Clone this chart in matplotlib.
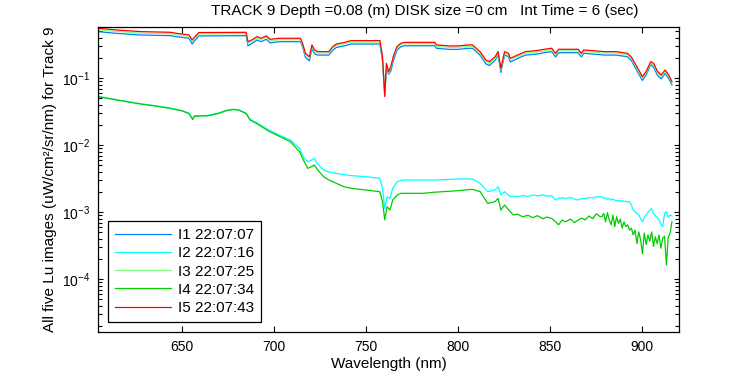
import matplotlib
matplotlib.use('Agg')
import matplotlib.pyplot as plt
from matplotlib.ticker import LogLocator, NullFormatter
import numpy as np

plt.rcParams['font.family'] = ['Liberation Sans', 'DejaVu Sans']
plt.rcParams['mathtext.fontset'] = 'custom'
plt.rcParams['mathtext.rm'] = 'Liberation Sans'
plt.rcParams['mathtext.it'] = 'Liberation Sans'
plt.rcParams['mathtext.default'] = 'regular'

# upper group (I1, I3, I5)
wl_top = [605, 615, 627.5, 644, 647, 650, 654, 655.7, 659.2, 685, 686, 688, 691, 693, 696, 698, 701,
          703.3, 714.5, 715.6, 717.2, 719.3, 720.7, 722.1, 723.8, 729.9, 732, 734, 738, 742, 757.6,
          759, 760.2, 761.1, 762.3, 763.5, 764.8, 766.8, 768.9, 770.9, 787.3, 788.3, 795.5, 799.6,
          805.7, 807.8, 811.9, 815, 817, 820.1, 821.7, 823.2, 825.2, 827.3, 828.3, 832.4, 836.5,
          842.6, 846.7, 850.8, 852.9, 854.5, 865.2, 866.8, 868.2, 879.5, 885.7, 891.8, 893.9, 898,
          900, 902, 904.5, 906.1, 908.2, 910.2, 912.3, 914.3, 916]
lu_i5 = [0.557, 0.526, 0.498, 0.486, 0.470, 0.459, 0.444, 0.373, 0.481, 0.486, 0.352, 0.373, 0.419,
         0.396, 0.429, 0.382, 0.390, 0.396, 0.396, 0.333, 0.236, 0.210, 0.315, 0.265, 0.250, 0.250,
         0.297, 0.325, 0.341, 0.365, 0.365, 0.210, 0.0532, 0.167, 0.126, 0.149, 0.210, 0.297, 0.333,
         0.344, 0.344, 0.315, 0.304, 0.304, 0.315, 0.315, 0.250, 0.188, 0.177, 0.210, 0.250, 0.141,
         0.250, 0.236, 0.199, 0.223, 0.250, 0.259, 0.271, 0.281, 0.236, 0.271, 0.271, 0.236, 0.265,
         0.250, 0.250, 0.236, 0.210, 0.133, 0.106, 0.126, 0.177, 0.167, 0.126, 0.112, 0.133, 0.112,
         0.0892]
lu_i1 = [0.496, 0.468, 0.443, 0.433, 0.418, 0.409, 0.395, 0.325, 0.428, 0.433, 0.305, 0.330, 0.373,
         0.352, 0.382, 0.338, 0.347, 0.352, 0.352, 0.296, 0.205, 0.182, 0.275, 0.234, 0.222, 0.222,
         0.262, 0.289, 0.303, 0.325, 0.325, 0.180, 0.058, 0.140, 0.115, 0.128, 0.180, 0.262, 0.296,
         0.306, 0.306, 0.280, 0.270, 0.270, 0.280, 0.280, 0.222, 0.165, 0.155, 0.187, 0.222, 0.122,
         0.222, 0.210, 0.175, 0.198, 0.222, 0.230, 0.241, 0.250, 0.208, 0.241, 0.241, 0.208, 0.236,
         0.222, 0.222, 0.210, 0.186, 0.116, 0.093, 0.112, 0.160, 0.146, 0.110, 0.098, 0.118, 0.098,
         0.080]
lu_i3 = [0.530, 0.500, 0.473, 0.462, 0.447, 0.436, 0.422, 0.355, 0.457, 0.462, 0.334, 0.354, 0.398,
         0.376, 0.408, 0.363, 0.370, 0.376, 0.376, 0.316, 0.224, 0.200, 0.299, 0.252, 0.238, 0.238,
         0.282, 0.309, 0.324, 0.347, 0.347, 0.200, 0.055, 0.159, 0.120, 0.142, 0.200, 0.282, 0.316,
         0.327, 0.327, 0.299, 0.289, 0.289, 0.299, 0.299, 0.238, 0.179, 0.168, 0.200, 0.238, 0.134,
         0.238, 0.224, 0.189, 0.212, 0.238, 0.246, 0.257, 0.267, 0.224, 0.257, 0.257, 0.224, 0.252,
         0.238, 0.238, 0.224, 0.200, 0.126, 0.101, 0.120, 0.168, 0.159, 0.120, 0.106, 0.126, 0.106,
         0.085]

# lower group (I2, I4)
wl_low = [605, 615, 628, 636, 644, 650, 654, 656, 657, 664, 670, 674, 678, 681, 685, 687, 691, 697,
          703, 709, 714, 716.5, 718.5, 720.5, 722, 723.5, 727, 730, 734, 738, 742, 750, 757.5, 759,
          760.2, 761.5, 763, 764.5, 767, 769, 771, 781, 787, 799.6, 807.8, 812, 816, 820, 821.7,
          823.2, 825.2, 828.3, 830, 832, 835, 838, 840.5, 843, 846, 848, 850.8, 852.9, 854.5, 856.5,
          858, 861, 863, 865, 867, 869, 871, 873, 875, 877,
          878, 879, 880, 881, 882, 883, 884, 885, 886, 887, 888, 889, 890, 891, 892, 893, 894, 895,
          896, 897, 898, 899, 900, 901, 902, 903, 904, 905, 906, 907, 908, 909, 910, 911, 912, 913,
          914, 915, 916]
lu_i2 = [0.0535, 0.0478, 0.0416, 0.0389, 0.0358, 0.0331, 0.0302, 0.0246, 0.0276, 0.0279, 0.0302,
         0.0331, 0.0346, 0.0338, 0.0302, 0.0246, 0.0215, 0.0171, 0.0142, 0.0120, 0.0090, 0.00638,
         0.00569, 0.00603, 0.00638, 0.00537, 0.00428, 0.0040, 0.00381, 0.00365, 0.00352, 0.0034,
         0.00321, 0.00228, 0.00114, 0.00171, 0.00161, 0.00228, 0.00286, 0.00300, 0.00303, 0.00303,
         0.00303, 0.00314, 0.00314, 0.0027, 0.00203, 0.00215, 0.00241, 0.00181, 0.00203, 0.00171,
         0.00175, 0.00170, 0.00178, 0.00172, 0.00181, 0.00176, 0.00182, 0.00174, 0.00176, 0.00152,
         0.00161, 0.00165, 0.00160, 0.00166, 0.00158, 0.00152, 0.00160, 0.00161, 0.00166, 0.00163,
         0.00170, 0.00171,
         0.00171, 0.00161, 0.00165, 0.00156, 0.00161, 0.00152, 0.00157, 0.00152, 0.00148, 0.00152,
         0.00146, 0.00150, 0.00144, 0.00146, 0.00142, 0.00145, 0.00128, 0.00108, 0.00102, 0.00096,
         0.00091, 0.00081, 0.00072, 0.00084, 0.00091, 0.00099, 0.00108, 0.00113, 0.00096, 0.00088,
         0.00084, 0.00077, 0.00065, 0.00061, 0.00096, 0.00102, 0.00084, 0.00091, 0.00088]
lu_i4 = [0.0530, 0.0473, 0.0412, 0.0385, 0.0354, 0.0327, 0.0298, 0.0242, 0.0272, 0.0275, 0.0298,
         0.0327, 0.0342, 0.0334, 0.0298, 0.0240, 0.0209, 0.0164, 0.0136, 0.0113, 0.0080, 0.00569,
         0.00453, 0.00480, 0.00508, 0.00440, 0.0034, 0.00303, 0.0027, 0.00241, 0.00228, 0.00215,
         0.00203, 0.00144, 0.00077, 0.00121, 0.00108, 0.00152, 0.00181, 0.00192, 0.00192, 0.00192,
         0.00199, 0.00210, 0.00220, 0.00203, 0.00136, 0.00144, 0.00161, 0.00108, 0.00128, 0.00102,
         0.00091, 0.00094, 0.00086, 0.00090, 0.00083, 0.00089, 0.00080, 0.00085, 0.00081, 0.00072,
         0.00065, 0.00077, 0.00072, 0.00079, 0.00070, 0.00076, 0.00082, 0.00077, 0.00088, 0.00080,
         0.00095, 0.00086,
         0.00086, 0.00096, 0.00072, 0.00099, 0.00077, 0.00065, 0.00091, 0.00061, 0.00086, 0.00068,
         0.00079, 0.00058, 0.00072, 0.00061, 0.00065, 0.00054, 0.00058, 0.00046, 0.00054, 0.00034,
         0.00051, 0.00039, 0.00024, 0.00049, 0.00033, 0.00046, 0.00037, 0.00051, 0.00031, 0.00043,
         0.00034, 0.00046, 0.00029, 0.00041, 0.00044, 0.000163, 0.00043, 0.00049, 0.00072]

labels = ['I1 22:07:07', 'I2 22:07:16', 'I3 22:07:25', 'I4 22:07:34', 'I5 22:07:43']
colors = ['#0080ff', '#00ffff', '#80ff80', '#00cc00', '#ff0000']

fig = plt.figure(figsize=(7.5, 3.75), dpi=100)
ax = fig.add_axes([98.3 / 750, 1 - 331.7 / 375, 581 / 750, 305 / 375])

series = [(wl_top, lu_i1), (wl_low, lu_i2), (wl_top, lu_i3), (wl_low, lu_i4), (wl_top, lu_i5)]
for (x, y), c, lab in zip(series, colors, labels):
    ax.plot(x, y, color=c, lw=0.9, label=lab)

ax.set_yscale('log')
ax.set_xlim(604.8, 920)
ax.set_ylim(1.65e-5, 0.589)
ax.set_xticks([650, 700, 750, 800, 850, 900])
ax.set_yticks([1e-4, 1e-3, 1e-2, 1e-1])
ax.set_yticklabels(['$10^{-4}$', '$10^{-3}$', '$10^{-2}$', '$10^{-1}$'])
ax.yaxis.set_minor_locator(LogLocator(base=10, subs=np.arange(2, 10)))
ax.yaxis.set_minor_formatter(NullFormatter())
ax.tick_params(which='both', direction='in', top=True, right=True, labelsize=10, width=0.8)
ax.tick_params(axis='x', which='major', length=4.5, pad=6)
ax.tick_params(axis='y', which='major', length=3.5, pad=6)
ax.tick_params(axis='y', which='minor', length=3)
for s in ax.spines.values():
    s.set_linewidth(0.9)

ax.set_xlabel('Wavelength (nm)', fontsize=11, labelpad=2)
ax.set_ylabel('All five Lu images (uW/cm²/sr/nm) for Track 9', fontsize=11, labelpad=3)
fig.text(425 / 750, 1 - 11 / 375, 'TRACK 9 Depth =0.08 (m) DISK size =0 cm   Int Time = 6 (sec)',
         ha='center', va='center', fontsize=11)

leg = ax.legend(loc='lower left', bbox_to_anchor=(0.0167, 0.032), borderaxespad=0,
                fontsize=11, handlelength=3.7, handletextpad=0.4, labelspacing=0.28,
                borderpad=0.45, fancybox=False, framealpha=1)
leg.get_frame().set_edgecolor('black')
leg.get_frame().set_linewidth(0.9)

fig.savefig('out.png', dpi=100)
